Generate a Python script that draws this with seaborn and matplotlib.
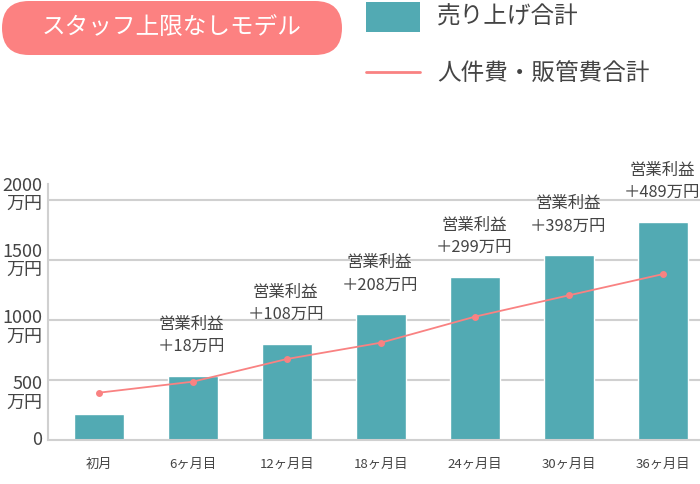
import matplotlib
matplotlib.use('Agg')
import matplotlib.pyplot as plt
import matplotlib.patches as mpatches
import matplotlib.lines as mlines
from matplotlib.transforms import IdentityTransform, ScaledTranslation
import pandas as pd
import seaborn as sns

# Data (unit: 万円)
periods = ['初月', '6ヶ月目', '12ヶ月目', '18ヶ月目', '24ヶ月目', '30ヶ月目', '36ヶ月目']
sales = [215, 533, 800, 1047, 1358, 1539, 1817]
costs = [394, 486, 675, 811, 1028, 1206, 1383]
profit_labels = ['', '＋18万円', '＋108万円', '＋208万円', '＋299万円', '＋398万円', '＋489万円']
ytick_values = [0, 500, 1000, 1500, 2000]
ytick_labels = ['0', '500\n万円', '1000\n万円', '1500\n万円', '2000\n万円']

teal = '#52aab3'
pink = '#f98282'
text_col = '#444444'
grid_col = '#d0d0d0'

sns.set_theme(style='white')
plt.rcParams['font.family'] = ['Noto Sans CJK JP', 'DejaVu Sans']

df = pd.DataFrame({'period': periods, 'sales': sales, 'costs': costs})

fig = plt.figure(figsize=(7, 4.84), dpi=100)
ax = fig.add_axes([48 / 700, 44 / 484, 652 / 700, 256 / 484])

# Bars and cost line
sns.barplot(data=df, x='period', y='sales', color=teal, width=0.53, saturation=1, ax=ax, zorder=2)
sns.pointplot(data=df, x='period', y='costs', color=pink, markers='o', markersize=4,
              linewidth=1.3, ax=ax, zorder=3)

# Profit annotations above bars
for i, lab in enumerate(profit_labels):
    if lab:
        ax.annotate('営業利益\n' + lab, xy=(i, sales[i]), xytext=(-1, 15), textcoords='offset points',
                    ha='center', va='bottom', fontsize=11.8, color=text_col, linespacing=1.4)

# Axes styling
ax.set_xlim(-0.54, 6.39)
ax.set_ylim(0, 2133)
ax.set_yticks(ytick_values)
ax.set_yticklabels([])
ax.tick_params(axis='y', length=0)
ax.tick_params(axis='x', length=0, pad=13, labelsize=9.5, labelcolor=text_col)
ax.set_xlabel('')
ax.set_ylabel('')

# y labels drawn as text; in the reference the two-line labels drift
# from below their gridline (500) to above it (2000)
ytrans = ax.get_yaxis_transform()
for v, lab in zip(ytick_values, ytick_labels):
    shift_px = -(19 - 0.012 * v) if '\n' in lab else 0
    tr = ytrans + ScaledTranslation(-4 / 72, shift_px / 100, fig.dpi_scale_trans)
    ax.text(0, v, lab, transform=tr, ha='right', va='center', fontsize=13,
            color=text_col, linespacing=1.05, clip_on=False)

for y in ytick_values[1:]:
    ax.axhline(y, color=grid_col, linewidth=1.5, zorder=1)
for side in ['top', 'right']:
    ax.spines[side].set_visible(False)
for side in ['left', 'bottom']:
    ax.spines[side].set_color(grid_col)
    ax.spines[side].set_linewidth(1.5)

# Title badge (pixel coordinates, origin bottom-left)
H = 484
badge = mpatches.FancyBboxPatch((2, H - 55), 340, 54,
                                boxstyle='round,pad=0,rounding_size=27',
                                facecolor='#fc8181', edgecolor='none',
                                transform=IdentityTransform())
fig.add_artist(badge)
fig.text(172 / 700, 1 - 28 / 484, 'スタッフ上限なしモデル', ha='center', va='center',
         color='white', fontsize=17)

# Legend drawn by hand
fig.add_artist(mpatches.Rectangle((366, H - 32), 54, 30, facecolor=teal, edgecolor='none',
                                  transform=IdentityTransform()))
fig.add_artist(mlines.Line2D([366, 420], [H - 72, H - 72], color=pink, linewidth=2,
                             transform=IdentityTransform()))
fig.text(437 / 700, 1 - 17 / 484, '売り上げ合計', ha='left', va='center',
         color=text_col, fontsize=17)
fig.text(437 / 700, 1 - 73 / 484, '人件費・販管費合計', ha='left', va='center',
         color=text_col, fontsize=17)

fig.savefig('out.png', dpi=100)
